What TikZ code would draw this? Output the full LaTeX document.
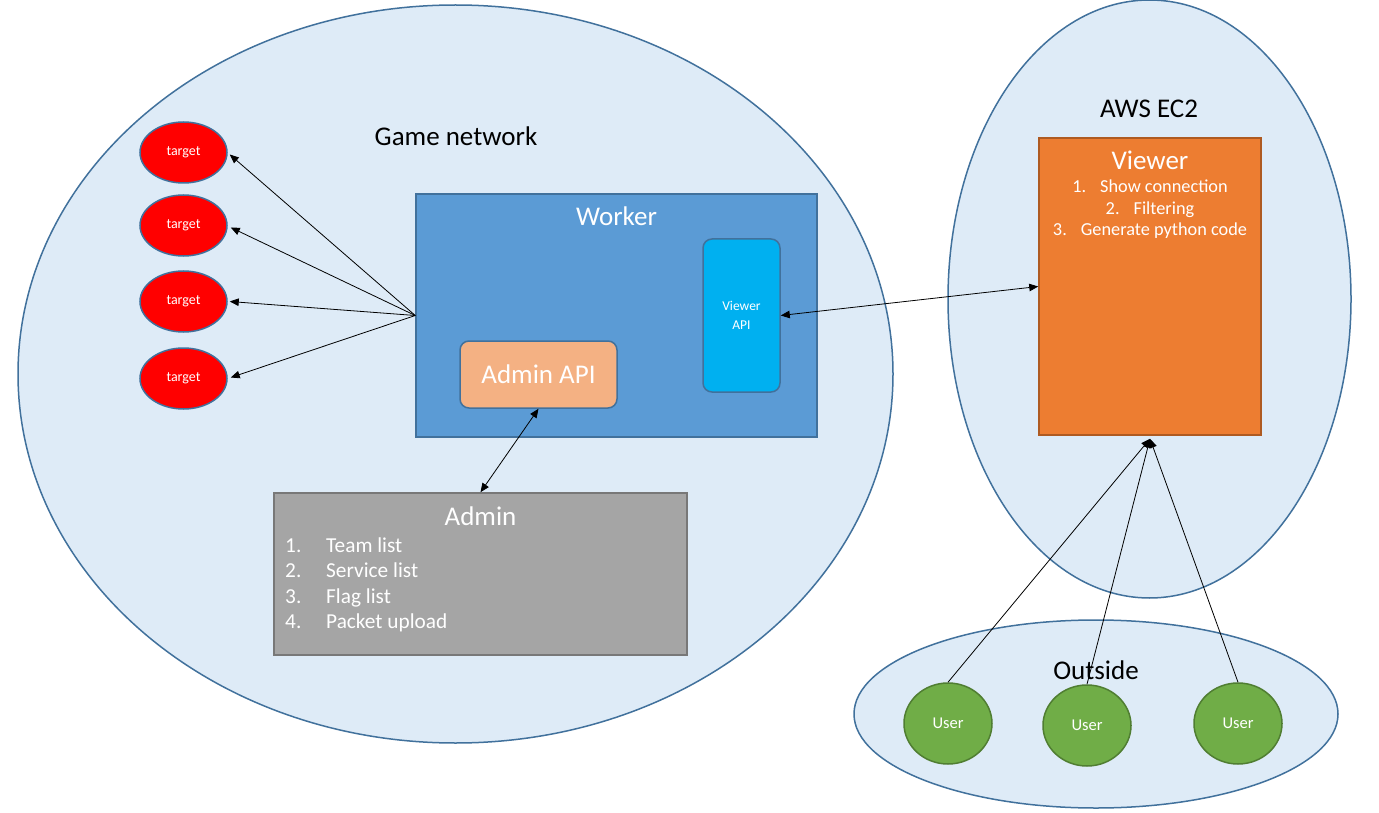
\documentclass[tikz,border=0pt]{standalone}
\usepackage{fontspec}
\setmainfont{Carlito}
\usetikzlibrary{shapes,positioning,arrows.meta}
\definecolor{zoneblue}{HTML}{DEEBF7}
\definecolor{edgeblue}{HTML}{41719C}
\definecolor{workerblue}{HTML}{5B9BD5}
\definecolor{apicyan}{HTML}{00B0F0}
\definecolor{adminpeach}{HTML}{F4B183}
\definecolor{admingray}{HTML}{A5A5A5}
\definecolor{admindraw}{HTML}{787878}
\definecolor{viewerorange}{HTML}{ED7D31}
\definecolor{viewerdraw}{HTML}{AE5A21}
\definecolor{usergreen}{HTML}{70AD47}
\definecolor{userdraw}{HTML}{507E32}
\newcommand{\fsz}[1]{\fontsize{#1}{#1}\selectfont}

\begin{document}
\begin{tikzpicture}[
    x=1pt, y=-1pt,
    Zone/.style={
        ellipse,
        draw=edgeblue,
        fill=zoneblue,
        line width=1.5pt,
        inner sep=0pt
    },
    Target/.style={
        ellipse, draw=edgeblue, fill=red, line width=1.5pt,
        minimum width=87pt, minimum height=61pt, inner sep=0pt,
        text=white, font=\fsz{14}
    },
    User/.style={
        ellipse, draw=userdraw, fill=usergreen, line width=1.5pt,
        minimum width=88pt, minimum height=81pt, inner sep=0pt,
        text=white, font=\fsz{16.5}
    },
    Title/.style={
        anchor=base, inner sep=0pt, font=\fsz{27}
    },
    ListItem/.style={
        anchor=base west, inner sep=0pt, text=white
    },
    link/.style={
        black, line width=0.8pt, -{Triangle[length=9pt,width=7.5pt]}
    },
    duplex/.style={
        black, line width=0.8pt, {Triangle[length=9pt,width=7.5pt]}-{Triangle[length=9pt,width=7.5pt]}
    }
    ]
    \useasboundingbox (0,0) rectangle (1379,813);
    \fill[white] (0,0) rectangle (1379,813);

    % zones
    \node[Zone,minimum width=875pt,minimum height=738pt] (gamenet) at (455.5,374) {};
    \node[Zone,minimum width=403pt,minimum height=598pt] (aws) at (1149.5,299) {};
    \node[Zone,minimum width=484pt,minimum height=188pt] (outside) at (1096,714) {};
    \node[Title] (gamenetlabel) at (456,145.7) {Game network};
    \node[Title] (awslabel) at (1149,117.3) {AWS EC2};
    \node[Title] (outsidelabel) at (1096,679) {Outside};

    % worker
    \node[rectangle,draw=edgeblue,fill=workerblue,line width=1.5pt,
        minimum width=401pt,minimum height=243pt] (worker) at (616.5,315.5) {};
    \node[Title,text=white] (workertitle) at (616.5,225.7) {Worker};
    \node[rectangle,rounded corners=9pt,draw=edgeblue,fill=apicyan,line width=1.5pt,
        minimum width=77pt,minimum height=153pt,align=center,text=white,
        font=\fontsize{13.5}{19}\selectfont] (viewerapi) at (741.5,315.5) {Viewer\\API};
    \node[rectangle,rounded corners=9pt,draw=edgeblue,fill=adminpeach,line width=1.5pt,
        minimum width=157pt,minimum height=67pt,text=white,font=\fsz{27}] (adminapi) at (538.5,374.5) {Admin API};

    % admin
    \node[rectangle,draw=admindraw,fill=admingray,line width=1.5pt,
        minimum width=413pt,minimum height=162pt] (admin) at (480.5,574) {};
    \node[Title,text=white] (admintitle) at (480.5,525) {Admin};
    \foreach \num/\item in {1/Team list,2/Service list,3/Flag list,4/Packet upload} {
        \node[ListItem,font=\fsz{21.3}] (adminnum\num) at (285,527+25.4*\num) {\num.};
        \node[ListItem,font=\fsz{21.3}] (adminitem\num) at (326,527+25.4*\num) {\item};
    }

    % viewer
    \node[rectangle,draw=viewerdraw,fill=viewerorange,line width=1.5pt,
        minimum width=222pt,minimum height=297pt] (viewer) at (1150,286.5) {};
    \node[Title,text=white] (viewertitle) at (1150,170) {Viewer};
    \node[anchor=base,inner sep=0pt,text=white,font=\fsz{18.3}] (viewerone) at (1150,193) {1.\hspace{14pt}Show connection};
    \node[anchor=base,inner sep=0pt,text=white,font=\fsz{18.3}] (viewertwo) at (1150,214.5) {2.\hspace{14pt}Filtering};
    \node[anchor=base,inner sep=0pt,text=white,font=\fsz{18.3}] (viewerthree) at (1150,236) {3.\hspace{14pt}Generate python code};

    % targets and users
    \foreach \i/\y in {1/152.5,2/225.5,3/301.5,4/378.5}
        \node[Target] (t\i) at (183.5,\y) {target};
    \node[User] (u1) at (948,723.5) {User};
    \node[User] (u2) at (1087,725.5) {User};
    \node[User] (u3) at (1238,723.5) {User};

    \path[link]
    (worker.west) edge ([xshift=2pt,yshift=-2pt]t1.east)
    (worker.west) edge ([xshift=3pt,yshift=-2pt]t2.east)
    (worker.west) edge ([xshift=2pt]t3.east)
    (worker.west) edge ([xshift=3pt,yshift=1pt]t4.east)
    (u1.north) edge ([yshift=-3pt]viewer.south)
    (u2.north) edge ([yshift=-3pt]viewer.south)
    (u3.north) edge ([yshift=-3pt]viewer.south);
    \path[duplex]
    (adminapi.south) edge (admin.north)
    (viewerapi.east) edge (viewer.west);
\end{tikzpicture}
\end{document}
